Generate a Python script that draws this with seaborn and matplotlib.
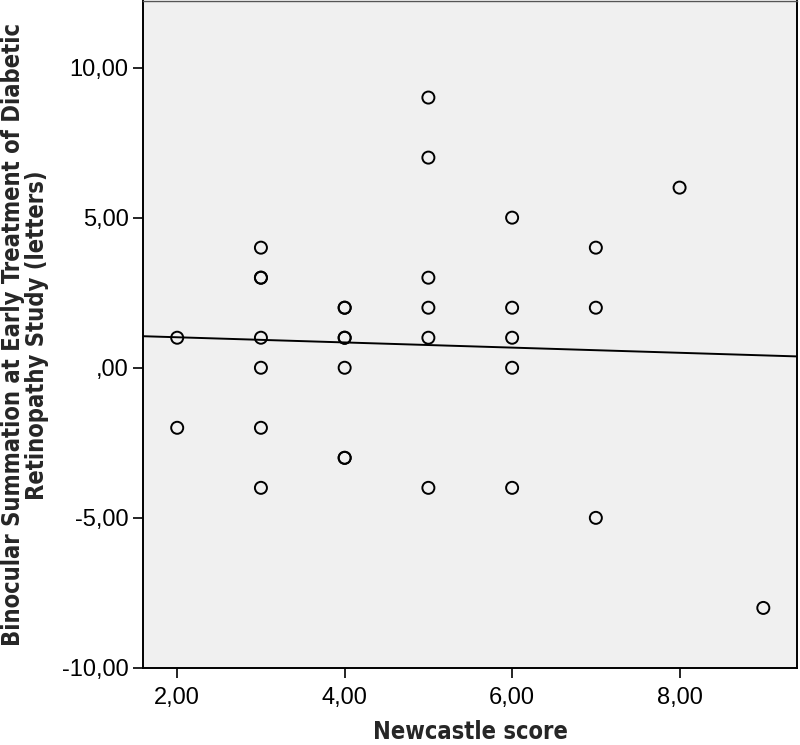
import numpy as np
import pandas as pd
import matplotlib
matplotlib.use('Agg')
import matplotlib.pyplot as plt
import seaborn as sns
from matplotlib.ticker import FuncFormatter

# Newcastle score vs binocular summation (letters)
newcastle = [2, 2,
             3, 3, 3, 3, 3, 3, 3,
             4, 4, 4, 4, 4, 4, 4,
             5, 5, 5, 5, 5, 5,
             6, 6, 6, 6, 6,
             7, 7, 7,
             8,
             9]
summation = [1, -2,
             4, 3, 3, 1, 0, -2, -4,
             2, 2, 1, 1, 0, -3, -3,
             9, 7, 3, 2, 1, -4,
             5, 2, 1, 0, -4,
             4, 2, -5,
             6,
             -8]
x_ticks = [2, 4, 6, 8]
y_ticks = [-10, -5, 0, 5, 10]

data = pd.DataFrame({'newcastle': newcastle, 'summation': summation})

sns.set_style("ticks")
plt.rcParams['font.family'] = ['Liberation Sans', 'DejaVu Sans']

fig = plt.figure(figsize=(8, 7.45), dpi=100)
ax = fig.add_axes([0.179, 0.1034, 0.817, 0.8946])
ax.set_facecolor('#f0f0f0')
ax.set_xlim(1.594, 9.40)
ax.set_ylim(-10, 12.2)

sns.regplot(data=data, x='newcastle', y='summation', ax=ax, ci=None,
            truncate=False,
            scatter_kws=dict(s=75, facecolors='none', edgecolors='black',
                             linewidths=1.4, alpha=1),
            line_kws=dict(color='black', lw=1.4))

def spss_fmt(v, pos):
    s = f"{v:.2f}".replace('.', ',')
    if s == '0,00' or s == '-0,00':
        s = ',00'
    return s

ax.set_xticks(x_ticks)
ax.set_yticks(y_ticks)
ax.xaxis.set_major_formatter(FuncFormatter(spss_fmt))
ax.yaxis.set_major_formatter(FuncFormatter(spss_fmt))
ax.tick_params(axis='both', direction='out', length=7.5, width=1.2,
               labelsize=17, colors='black', pad=3)
ax.tick_params(axis='x', pad=6)

for side in ['left', 'bottom', 'right']:
    ax.spines[side].set_color('black')
    ax.spines[side].set_linewidth(1.4)
ax.spines['top'].set_color('#555555')
ax.spines['top'].set_linewidth(1.0)

label_font = dict(family=['DejaVu Sans'], stretch='condensed',
                  weight='bold', size=17)
ax.set_xlabel('Newcastle score', labelpad=8, **label_font)
ax.set_ylabel('Binocular Summation at Early Treatment of Diabetic\nRetinopathy Study (letters)',
              labelpad=9, linespacing=1.0, **label_font)

fig.savefig('out.png', dpi=100)
